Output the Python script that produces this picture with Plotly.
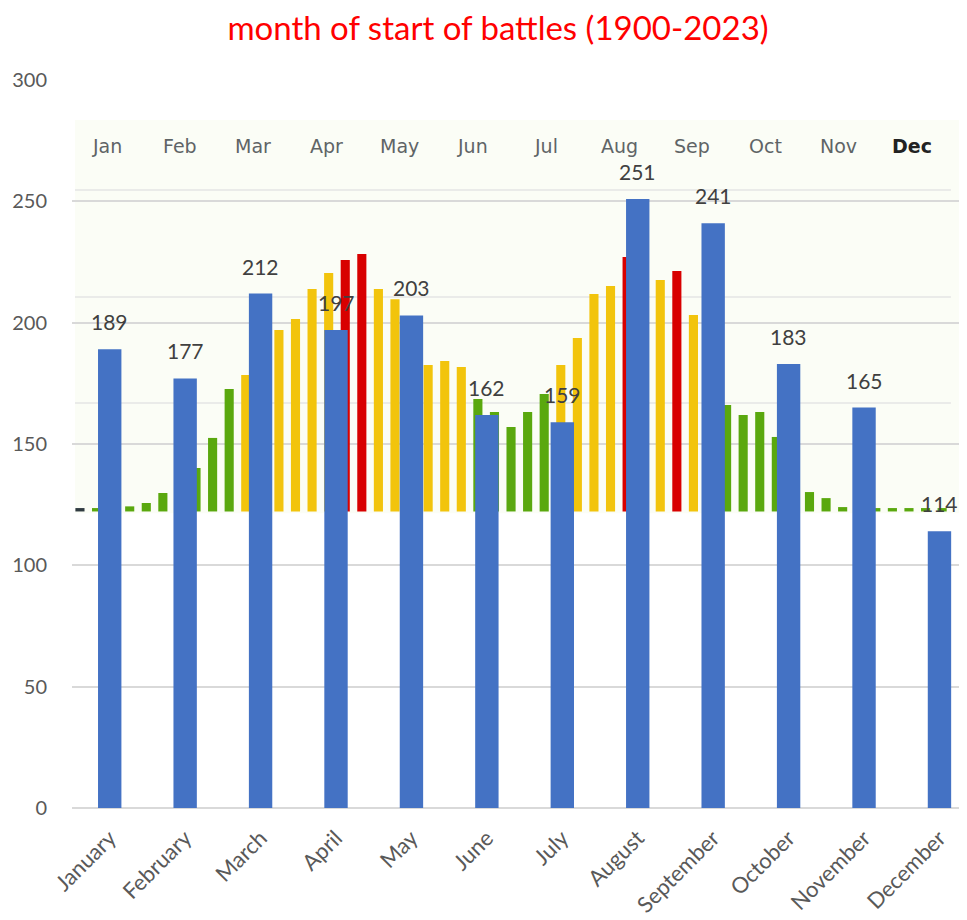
import plotly.graph_objects as go

# ---- main data ----
months = ["January", "February", "March", "April", "May", "June", "July",
          "August", "September", "October", "November", "December"]
battles = [189, 177, 212, 197, 203, 162, 159, 251, 241, 183, 165, 114]

# ---- background (pasted weekly heat chart) ----
bg_month_labels = ["Jan", "Feb", "Mar", "Apr", "May", "Jun", "Jul", "Aug", "Sep", "Oct", "Nov", "Dec"]
bg_weeks = list(range(53))
bg_tops = [123.6, 123.6, 123.8, 124.3, 125.7, 129.8, 134.0, 140.1, 152.5, 172.7,
           178.4, 188.0, 197.0, 201.5, 213.9, 220.5, 225.8, 228.3, 213.9, 209.6,
           196.0, 182.6, 184.2, 181.7, 168.5, 163.2, 157.0, 163.2, 170.6, 182.6,
           193.7, 211.8, 215.1, 227.1, 229.0, 217.6, 221.3, 203.2, 185.0, 166.1,
           161.9, 163.2, 152.9, 140.0, 130.2, 127.7, 124.0, 123.6, 123.6, 123.6,
           123.6, 123.6, 123.6]
bg_levels = ["K", "G", "G", "G", "G", "G", "G", "G", "G", "G",
             "Y", "Y", "Y", "Y", "Y", "Y", "R", "R", "Y", "Y",
             "Y", "Y", "Y", "Y", "G", "G", "G", "G", "G", "Y",
             "Y", "Y", "Y", "R", "R", "Y", "R", "Y", "Y", "G",
             "G", "G", "G", "G", "G", "G", "G", "G", "G", "G",
             "G", "G", "G"]
bg_base = 122.2
bg_grid = [166.9, 210.6, 254.7]

level_colors = {"K": "#2f3a40", "G": "#5aa80e", "Y": "#f2c40c", "R": "#d80000"}

# page body has an 8px margin; figure is sized to end at the window edge
W, H = 959, 912

fig = go.Figure()

# background bars on base axis (drawn underneath)
fig.add_trace(go.Bar(
    x=bg_weeks, y=[t - bg_base for t in bg_tops], base=bg_base,
    marker=dict(color=[level_colors[l] for l in bg_levels], line=dict(width=0)),
    width=0.55, xaxis="x", yaxis="y", hoverinfo="skip", showlegend=False,
))

# main blue bars on overlaying axis
fig.add_trace(go.Bar(
    x=months, y=battles,
    marker=dict(color="#4472c4", line=dict(width=0)),
    width=0.31, xaxis="x2", yaxis="y", showlegend=False,
))

shapes = [dict(type="rect", xref="paper", yref="y", x0=0.0034, x1=1.0,
               y0=121.5, y1=283.5, fillcolor="#fbfdf6", line=dict(width=0),
               layer="below")]
for g in bg_grid:
    shapes.append(dict(type="line", xref="paper", yref="y", x0=0.0034, x1=0.982,
                       y0=g, y1=g, line=dict(color="#e4e4e4", width=1.5), layer="below"))

annotations = []
for k, lab in enumerate(bg_month_labels):
    bold = lab == "Dec"
    annotations.append(dict(
        x=(k + 0.5) * 53 / 12 - 0.6, y=272.8, xref="x", yref="y",
        text=("<b>%s</b>" % lab) if bold else lab, showarrow=False,
        font=dict(family="DejaVu Sans", size=19, color="#222222" if bold else "#5f6466"),
    ))

# data labels above the blue bars
for m, v in zip(months, battles):
    annotations.append(dict(
        x=m, y=v, xref="x2", yref="y", text=str(v), showarrow=False,
        yanchor="bottom", yshift=13,
        font=dict(family="Lato", size=21, color="#404040"),
    ))

fig.update_layout(
    width=W, height=H,
    margin=dict(l=64, r=0, t=72, b=112),
    paper_bgcolor="white", plot_bgcolor="white",
    barmode="overlay",
    title=dict(text="month of start of battles (1900-2023)", x=490 / W, xref="container",
               xanchor="center", y=1 - 9 / H, yanchor="top",
               font=dict(family="Lato", size=33, color="#ff0000")),
    xaxis=dict(range=[-0.48, 53.5], showticklabels=False, showgrid=False,
               zeroline=False, showline=False, fixedrange=True),
    xaxis2=dict(overlaying="x", anchor="y", side="bottom", range=[-0.5, 11.365],
                type="category", tickangle=-45, showgrid=False, showline=False,
                zeroline=False, ticks="", ticklabelstandoff=12,
                tickfont=dict(family="Lato", size=22, color="#595959")),
    yaxis=dict(range=[0, 300], dtick=50, showgrid=True, gridcolor="#d9d9d9",
               gridwidth=1.5, zeroline=True, zerolinecolor="#d9d9d9", zerolinewidth=1.5,
               showline=False, ticks="", ticklabelstandoff=24,
               tickfont=dict(family="Lato", size=20, color="#595959")),
    shapes=shapes,
    annotations=annotations,
)

fig.write_html("out.html")
